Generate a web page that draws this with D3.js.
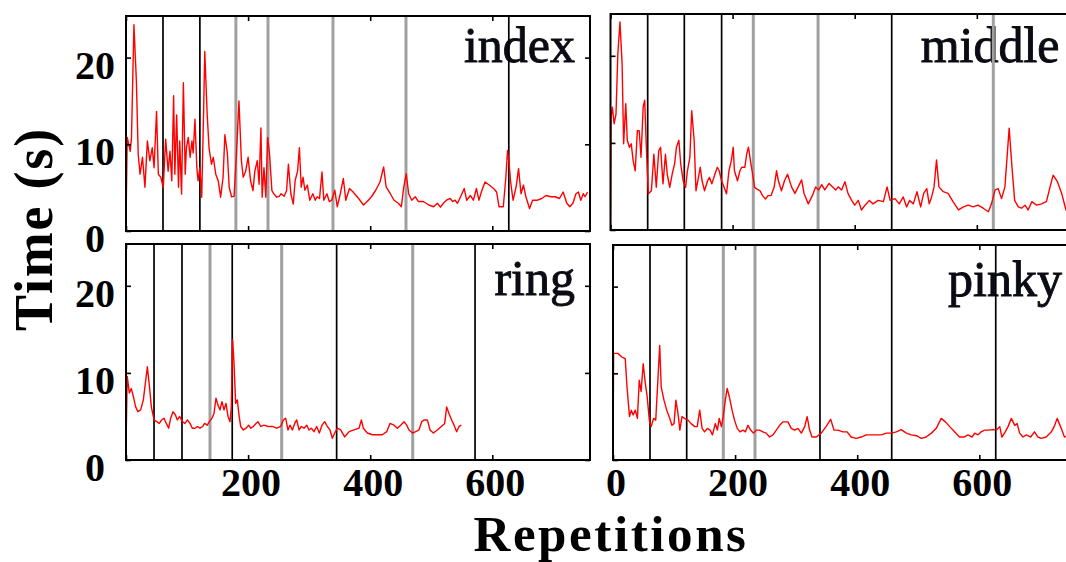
<!DOCTYPE html>
<html><head><meta charset="utf-8">
<script src="https://cdn.jsdelivr.net/npm/d3@7"></script>
<style>html,body{margin:0;padding:0;background:#fff;overflow:hidden}svg{display:block}</style>
</head><body><svg id="chart" width="1066" height="562"></svg>
<script>
// ---- data -------------------------------------------------------------
const fingers = ["index", "middle", "ring", "pinky"];
const xTicks = [0, 200, 400, 600];
const yTicks = [0, 10, 20];
const repMax = 760, timeMax = 24.8;

// completion time per repetition: [repetition, seconds]
const indexTimes = [[0,1.0],[2,10.8],[7,9.2],[9,10.8],[13,23.8],[17,17.3],[20,8.85],[23,6.55],[27,8.5],[31,5.05],[35,10.4],[39,8.1],[43,9.6],[46,7.3],[50,13.8],[53,6.55],[57,6.2],[61,5.0],[65,10.6],[69,6.9],[72,9.2],[75,5.8],[78,15.6],[80,6.55],[83,13.4],[86,5.05],[88,10.4],[91,4.25],[94,17.1],[97,6.55],[99,9.6],[102,10.8],[105,8.5],[108,10.4],[110,9.0],[113,12.9],[116,7.3],[118,5.8],[121,7.3],[124,3.9],[127,13.4],[129,20.7],[133,13.4],[136,9.6],[140,7.7],[143,8.5],[147,6.55],[151,5.8],[155,3.9],[159,6.2],[162,11.1],[166,9.0],[169,5.05],[173,3.95],[177,4.0],[181,9.0],[185,15.0],[189,8.1],[192,6.2],[196,6.9],[200,8.5],[204,5.8],[208,4.65],[211,6.9],[215,8.1],[218,5.4],[221,11.9],[223,3.9],[226,7.3],[229,3.9],[232,10.8],[235,9.0],[239,4.65],[242,4.3],[247,3.9],[251,4.0],[254,4.3],[259,4.0],[263,4.65],[266,7.7],[270,4.3],[274,3.1],[277,5.8],[281,6.9],[284,9.6],[287,5.05],[290,6.2],[293,4.7],[297,5.3],[301,3.55],[306,4.3],[310,3.55],[313,3.95],[317,3.75],[321,6.8],[324,3.55],[329,4.3],[333,3.4],[337,3.55],[342,4.7],[346,2.8],[351,4.3],[356,6.05],[360,3.55],[366,4.9],[372,4.5],[381,3.75],[389,3.0],[397,3.55],[402,3.95],[409,4.7],[416,5.65],[422,7.4],[426,5.1],[433,4.3],[439,3.55],[446,3.2],[451,2.8],[455,5.1],[459,6.6],[463,4.3],[468,3.55],[474,3.95],[479,3.4],[487,3.4],[496,3.0],[504,2.8],[510,3.2],[515,2.75],[520,3.2],[525,3.55],[531,3.75],[535,3.4],[539,3.55],[543,3.2],[548,3.95],[554,4.9],[558,3.55],[564,4.1],[569,3.55],[574,4.9],[578,3.55],[583,4.7],[588,5.65],[595,5.3],[602,4.9],[607,4.5],[611,2.8],[618,2.8],[622,6.05],[625,9.3],[628,7.4],[630,5.65],[634,3.55],[639,5.1],[643,7.2],[647,4.3],[651,5.3],[655,3.95],[661,2.6],[666,3.55],[674,3.55],[681,3.75],[688,4.1],[696,3.95],[703,3.95],[710,3.75],[716,4.5],[722,3.2],[727,2.8],[732,3.2],[737,4.3],[741,4.5],[745,3.55],[749,4.3],[752,3.95],[756,4.5]];

const middleTimes = [[0,0.3],[1,13.0],[3,14.1],[6,12.2],[9,13.3],[12,20.2],[15.5,23.9],[19,19.1],[21.5,9.9],[25,14.5],[27.5,10.3],[31,9.5],[34,9.9],[37,8.0],[40.5,6.8],[44,11.4],[47,11.4],[50,8.35],[53.5,14.1],[56,14.9],[58.5,9.9],[62,4.15],[67,4.5],[71,8.7],[75,4.9],[79,9.1],[82,9.5],[86,5.3],[90,8.7],[93,6.4],[97,4.9],[101,6.4],[105,7.6],[108,9.5],[112,10.3],[115,7.6],[119,5.65],[123,4.9],[126,6.8],[130,8.35],[133,13.7],[137,10.3],[140,4.5],[143,5.65],[147,7.2],[150,5.65],[154,4.5],[159,5.65],[162,6.05],[166,5.3],[171,6.4],[175,7.2],[178,6.8],[182,5.65],[186,4.9],[190,4.15],[194,6.8],[198,8.0],[201,9.5],[203,6.8],[208,5.65],[212,6.8],[215,7.2],[220,7.2],[223,8.7],[226,9.5],[230,7.6],[232,6.8],[236,4.9],[240,4.7],[245,4.5],[249,3.95],[254,3.55],[258,3.95],[263,3.95],[268,4.9],[272,6.8],[275,5.65],[280,4.5],[285,5.65],[290,6.4],[296.5,4.95],[302,4.2],[307.5,4.95],[313,5.75],[317,4.2],[324,3.0],[331,4.0],[336,4.95],[341,4.6],[346,5.2],[351,4.6],[358,5.35],[364,4.95],[369,4.6],[373,4.95],[378.5,4.6],[384,5.55],[389,4.2],[395,3.4],[400,2.85],[406,3.4],[411,2.3],[417,2.85],[424,3.4],[430,3.0],[438.5,3.4],[447,3.25],[453,4.95],[458,3.4],[466,3.6],[473,3.0],[479.5,3.8],[485,2.65],[490,3.4],[496,3.0],[502,4.4],[508,2.65],[513,4.2],[518,4.75],[522,3.0],[526,3.8],[530,4.95],[534,8.05],[538,4.95],[545,4.4],[553,4.2],[561,3.25],[570,2.3],[578,2.65],[586,2.85],[594,2.65],[602,2.85],[610.5,2.5],[619,2.1],[624,3.0],[630,4.6],[635,4.75],[640.5,3.6],[646,4.95],[653,11.7],[657.5,7.3],[662,3.4],[668,2.65],[673,2.5],[679,2.85],[684,2.3],[690,3.25],[698,2.85],[706,3.0],[714,3.25],[720,4.95],[725,6.3],[732,5.55],[739,4.2],[746,2.3],[752,3.0],[758,3.5]];

const ringTimes = [[0,1.5],[2,9.6],[5.5,7.7],[8.7,8.2],[12,7.3],[15.8,6.1],[19.6,5.55],[24,5.75],[28.4,6.9],[31.7,8.8],[35,10.7],[38.2,8.6],[41.5,6.1],[45.9,4.6],[50.2,4.4],[54.6,4.2],[58.4,4.6],[62.2,4.8],[66,4.2],[69.9,3.65],[73.2,4.8],[77,5.55],[80.8,5.2],[84.1,4.6],[87.9,5.0],[92.3,4.4],[96.6,4.2],[100.5,4.6],[104.8,4.2],[108.6,3.65],[113,3.65],[116.8,3.85],[121.2,3.65],[125.6,3.85],[128.8,4.2],[133.2,4.0],[136.5,4.4],[140.9,4.8],[144.1,5.35],[147.4,7.1],[150.7,6.3],[154,5.75],[157.2,6.7],[160.5,5.75],[163.8,6.5],[167.1,5.0],[170.4,4.4],[172.5,6.1],[174.7,13.8],[176.9,11.1],[179.6,6.5],[182.4,6.9],[185,5.2],[187.8,3.85],[192.2,3.45],[196.6,3.65],[200.9,4.0],[204.2,3.65],[208.6,3.85],[212.9,4.2],[216.2,4.4],[220.6,3.85],[226,4.0],[232.6,3.85],[239.7,3.85],[246.8,3.65],[253.3,3.85],[257.7,4.6],[261.5,4.8],[265.3,3.45],[268.6,4.0],[272.5,3.45],[276.3,4.2],[279.6,4.6],[283.4,3.45],[287.2,3.85],[291.6,3.65],[296,4.0],[299.7,3.45],[303.6,3.65],[307.9,3.25],[312.3,3.85],[316.7,3.1],[321,4.0],[325.4,4.4],[329.8,3.85],[334.1,3.45],[338,2.5],[341.8,3.1],[346.2,3.65],[351.6,3.45],[358.2,2.65],[365.3,3.25],[373.5,3.45],[381.7,3.65],[385.5,4.6],[388.7,3.65],[395.3,3.1],[403.5,2.9],[411.7,2.9],[419.9,2.9],[427,3.25],[432.4,4.2],[439,4.0],[444.4,3.65],[449.9,4.0],[455.4,4.4],[459.7,4.0],[463.6,3.45],[469.5,3.1],[474.5,3.25],[479.9,3.45],[484.3,4.4],[488.1,4.6],[493.6,4.6],[498,3.45],[503.4,3.1],[510,3.45],[516.5,3.85],[522,4.2],[525.2,6.1],[529,5.35],[533.4,4.6],[537.3,4.0],[541.6,3.25],[545.5,3.85],[549.3,4.0]];

const pinkyTimes = [[0,0.2],[1,12.3],[8,12.3],[14,11.9],[20,11.7],[23,8.4],[27,5.0],[30,5.75],[33,5.2],[36.5,5.75],[40,4.8],[43,9.2],[46,7.9],[49.5,11.1],[53,8.8],[56,7.3],[59.5,4.6],[62.5,3.85],[66.5,4.8],[70,4.6],[73.5,9.2],[76.5,13.2],[79,8.4],[83.5,6.9],[88,5.75],[92,5.0],[96.5,4.0],[100,4.2],[103,6.9],[106.5,5.35],[109.5,3.45],[113,5.0],[117,4.8],[123,4.6],[128,4.2],[134,3.85],[138,3.85],[142,5.75],[146,3.65],[150,3.25],[154.5,3.65],[159,3.45],[163,2.9],[167.5,4.2],[171,3.45],[174,4.8],[177.5,3.85],[180.5,5.0],[184,6.9],[187,8.25],[190.5,7.3],[195,5.75],[199,4.6],[203.5,3.65],[208,3.25],[213,3.45],[217,3.25],[221,4.0],[225.5,3.45],[230,3.1],[235,3.45],[240,3.45],[245.5,3.25],[251,3.1],[256.5,2.65],[262,2.9],[267.5,3.45],[273,4.0],[278.5,4.4],[286.5,4.4],[292,3.65],[297.5,3.45],[303,3.65],[308.5,3.1],[314,3.85],[318,5.0],[322,3.45],[326,2.65],[333,2.65],[341,3.1],[349,3.85],[356.5,4.7],[362,3.45],[368.5,3.45],[376.5,3.25],[383.5,3.25],[390,2.65],[398.5,2.5],[406.5,2.65],[415,2.9],[423,2.9],[431,2.9],[439.5,2.9],[447.5,3.1],[456,3.1],[464,3.25],[472,3.5],[480.5,3.1],[488.5,2.9],[497,2.8],[505,2.5],[513,2.65],[521.5,3.1],[529.5,3.65],[537.5,4.8],[544.5,4.4],[551.5,3.85],[559.5,3.25],[567.5,2.65],[575,2.65],[581.5,2.9],[588,2.65],[592.5,3.1],[598,2.9],[603,3.25],[608.5,3.45],[615,3.45],[622.5,3.5],[628,3.45],[633.5,3.85],[637,2.65],[642.5,3.25],[647,3.85],[652.5,4.8],[658,4.0],[662,4.2],[666,3.1],[671.5,2.65],[677,2.9],[684,2.65],[690.5,3.25],[696,2.65],[701.5,2.5],[709.5,2.65],[718,3.25],[723.5,4.0],[727.5,4.8],[733,3.85],[739.5,2.65],[748,2.8]];

// session boundaries (repetition index), two kinds per finger
const indexBreaksA = [60.6, 121, 627];
const indexBreaksB = [180, 232.6, 339, 458.6];
const middleBreaksA = [60.9, 120.9, 182, 460.6];
const middleBreaksB = [233.9, 340, 627];
const ringBreaksA = [45.9, 91.7, 174, 345, 571.7];
const ringBreaksB = [137.6, 255, 469.6];
const pinkyBreaksA = [60.6, 120.7, 339, 456.5, 626.9];
const pinkyBreaksB = [180.7, 232.6];

// ---- drawing ----------------------------------------------------------
const svg = d3.select("#chart");
const FONT = "'Liberation Serif', 'Times New Roman', serif";
const panelW = 464;

const panels = [
  { name: fingers[0], times: indexTimes,  a: indexBreaksA,  b: indexBreaksB,  left: 126,   top: 16,  bottom: 231, yLabels: true,  xLabels: null, nameY: 62 },
  { name: fingers[1], times: middleTimes, a: middleBreaksA, b: middleBreaksB, left: 610.5, top: 14,  bottom: 230, yLabels: false, xLabels: null, nameY: 62 },
  { name: fingers[2], times: ringTimes,   a: ringBreaksA,   b: ringBreaksB,   left: 126,   top: 244, bottom: 460, yLabels: true,  xLabels: xTicks.filter(v => v > 0), nameY: 295 },
  { name: fingers[3], times: pinkyTimes,  a: pinkyBreaksA,  b: pinkyBreaksB,  left: 613,   top: 245, bottom: 460, yLabels: false, xLabels: xTicks, nameY: 296 }
];

panels.forEach((p, i) => {
  const x = d3.scaleLinear().domain([0, repMax]).range([p.left, p.left + panelW]);
  const y = d3.scaleLinear().domain([0, timeMax]).range([p.bottom, p.top]);
  const g = svg.append("g");

  const clipId = "clip-" + i;
  svg.append("clipPath").attr("id", clipId)
    .append("rect").attr("x", p.left).attr("y", p.top)
    .attr("width", panelW).attr("height", p.bottom - p.top);

  // finger name
  g.append("text")
    .attr("x", p.left + panelW - 15).attr("y", p.nameY)
    .attr("text-anchor", "end")
    .attr("font-family", FONT).attr("font-size", 50)
    .attr("fill", "#0b0b14").attr("stroke", "#0b0b14").attr("stroke-width", 0.9)
    .text(p.name);

  // session boundaries
  g.selectAll(".sb").data(p.b).join("line")
    .attr("x1", d => x(d)).attr("x2", d => x(d))
    .attr("y1", p.top).attr("y2", p.bottom)
    .attr("stroke", "#a0a0a0").attr("stroke-width", 3);
  g.selectAll(".sa").data(p.a).join("line")
    .attr("x1", d => x(d)).attr("x2", d => x(d))
    .attr("y1", p.top).attr("y2", p.bottom)
    .attr("stroke", "#000").attr("stroke-width", 1.7);

  // time series
  const line = d3.line().x(d => x(d[0])).y(d => y(d[1]));
  g.append("path").datum(p.times)
    .attr("clip-path", `url(#${clipId})`)
    .attr("fill", "none").attr("stroke", "#ff0000")
    .attr("stroke-width", 1.4).attr("stroke-linejoin", "round")
    .attr("d", line);

  // inward ticks on all four sides
  const tickStyle = sel => {
    sel.select(".domain").remove();
    sel.selectAll(".tick line").attr("stroke", "#000").attr("stroke-width", 1.6);
  };
  g.append("g").attr("transform", `translate(0,${p.bottom})`)
    .call(d3.axisBottom(x).tickValues(xTicks).tickSize(-5).tickFormat("")).call(tickStyle);
  g.append("g").attr("transform", `translate(0,${p.top})`)
    .call(d3.axisTop(x).tickValues(xTicks).tickSize(-5).tickFormat("")).call(tickStyle);
  g.append("g").attr("transform", `translate(${p.left},0)`)
    .call(d3.axisLeft(y).tickValues(yTicks).tickSize(-5).tickFormat("")).call(tickStyle);
  g.append("g").attr("transform", `translate(${p.left + panelW},0)`)
    .call(d3.axisRight(y).tickValues(yTicks).tickSize(-5).tickFormat("")).call(tickStyle);

  // frame
  g.append("rect")
    .attr("x", p.left).attr("y", p.top)
    .attr("width", panelW).attr("height", p.bottom - p.top)
    .attr("fill", "none").attr("stroke", "#000").attr("stroke-width", 2);

  // tick labels
  if (p.yLabels) {
    g.selectAll(".yl").data(yTicks).join("text")
      .attr("x", p.left - 31).attr("y", d => y(d) + 21)
      .attr("text-anchor", "middle")
      .attr("font-family", FONT).attr("font-size", 40).attr("font-weight", "bold")
      .attr("fill", "#000")
      .text(d => d);
  }
  if (p.xLabels) {
    g.selectAll(".xl").data(p.xLabels).join("text")
      .attr("x", d => x(d) + 3).attr("y", p.bottom + 36)
      .attr("text-anchor", "middle")
      .attr("font-family", FONT).attr("font-size", 40).attr("font-weight", "bold")
      .attr("fill", "#000")
      .text(d => d);
  }
});

// axis titles
svg.append("text")
  .attr("x", 611).attr("y", 550.5)
  .attr("text-anchor", "middle")
  .attr("font-family", FONT).attr("font-size", 51).attr("font-weight", "bold")
  .attr("letter-spacing", 2.6)
  .text("Repetitions");

svg.append("text")
  .attr("transform", "translate(52,229) rotate(-90)")
  .attr("text-anchor", "middle")
  .attr("font-family", FONT).attr("font-size", 54).attr("font-weight", "bold")
  .attr("letter-spacing", 1.8)
  .text("Time (s)");
</script>
</body></html>
